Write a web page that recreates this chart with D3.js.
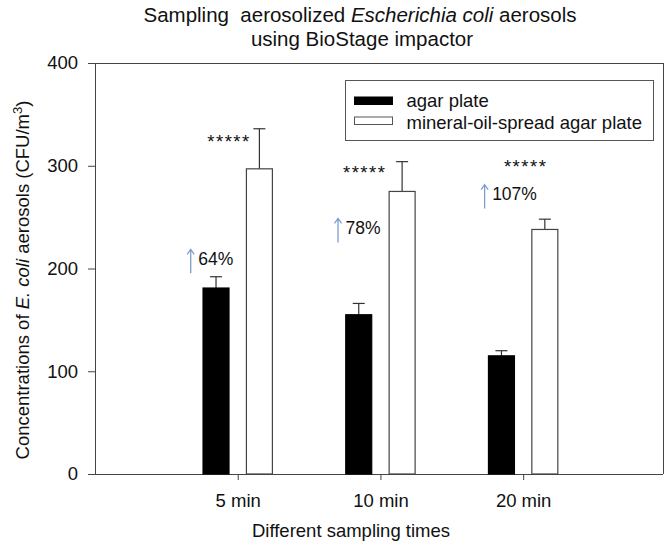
<!DOCTYPE html>
<html>
<head>
<meta charset="utf-8">
<script src="https://cdn.jsdelivr.net/npm/d3@7/dist/d3.min.js"></script>
<style>
  html, body { margin: 0; padding: 0; background: #fff; }
  svg { display: block; }
  text { font-family: "Liberation Sans", Arial, sans-serif; fill: #111; }
</style>
</head>
<body>
<svg id="chart" width="672" height="547"></svg>
<script>
// ---- data ----
const categories = ["5 min", "10 min", "20 min"];
const agarMeans = [181, 155, 115];
const agarErrors = [11, 11, 5];
const oilMeans = [297, 275, 238];
const oilErrors = [39, 29, 10];
const percentLabels = ["64%", "78%", "107%"];
const starLabels = ["*****", "*****", "*****"];
const yTicks = [0, 100, 200, 300, 400];
const seriesNames = ["agar plate", "mineral-oil-spread agar plate"];

(function () {
// ---- layout ----
const svg = d3.select("#chart");
const pL = 95, pR = 663, pT = 63, pB = 474;
const x = d3.scaleLinear().domain([0, 3.98]).range([pL, pR]);
const y = d3.scaleLinear().domain([0, 400]).range([pB, pT]);
const step = x(1) - x(0);
const barW = step * 0.182;
const barOff = step * 0.152;
const axisColor = "#444";

// frame (top & right)
svg.append("line").attr("x1", pL).attr("x2", pR).attr("y1", pT + 0.5).attr("y2", pT + 0.5)
  .attr("stroke", axisColor).attr("stroke-width", 1);
svg.append("line").attr("x1", pR + 0.5).attr("x2", pR + 0.5).attr("y1", pT).attr("y2", pB)
  .attr("stroke", axisColor).attr("stroke-width", 1);

// y axis
const yAxis = svg.append("g").attr("transform", `translate(${pL},0)`)
  .call(d3.axisLeft(y).tickValues(yTicks).tickSize(7).tickSizeOuter(0).tickPadding(10));
yAxis.selectAll("path, line").attr("stroke", axisColor);
yAxis.selectAll("text").attr("font-size", 18.5).attr("fill", "#111")
  .attr("font-family", "Liberation Sans, Arial, sans-serif");

// x axis
const xAxis = svg.append("g").attr("transform", `translate(0,${pB})`)
  .call(d3.axisBottom(x).tickValues([1, 2, 3]).tickFormat((d) => categories[d - 1])
    .tickSize(6).tickSizeOuter(0).tickPadding(14));
xAxis.select("path").attr("d", `M${pL},0.5H${pR}`).attr("stroke", axisColor);
xAxis.selectAll("line").attr("stroke", axisColor);
xAxis.selectAll("text").attr("font-size", 18.5).attr("fill", "#111")
  .attr("font-family", "Liberation Sans, Arial, sans-serif");

// bars
const groups = categories.map((c, i) => ({
  i: i + 1, agar: agarMeans[i], agarErr: agarErrors[i],
  oil: oilMeans[i], oilErr: oilErrors[i]
}));

const bars = [];
groups.forEach((g) => {
  bars.push({ cx: x(g.i) - barOff, v: g.agar, e: g.agarErr, fill: "#000", stroke: "#000" });
  bars.push({ cx: x(g.i) + barOff, v: g.oil, e: g.oilErr, fill: "#fff", stroke: "#444" });
});

const eb = svg.append("g");
bars.forEach((b) => {
  eb.append("line").attr("x1", b.cx).attr("x2", b.cx).attr("y1", y(b.v)).attr("y2", y(b.v + b.e))
    .attr("stroke", "#333").attr("stroke-width", 1.2);
  eb.append("line").attr("x1", b.cx - 6).attr("x2", b.cx + 6).attr("y1", y(b.v + b.e)).attr("y2", y(b.v + b.e))
    .attr("stroke", "#333").attr("stroke-width", 1.2);
});

svg.append("g").selectAll("rect").data(bars).join("rect")
  .attr("x", (d) => d.cx - barW / 2)
  .attr("y", (d) => y(d.v))
  .attr("width", barW)
  .attr("height", (d) => y(0) - y(d.v))
  .attr("fill", (d) => d.fill)
  .attr("stroke", (d) => d.stroke)
  .attr("stroke-width", 1.2);

// significance stars
const starPos = [{ dx: -9.7, v: 328 }, { dx: -16.7, v: 298 }, { dx: 1.5, v: 304 }];
svg.append("g").selectAll("text").data(starLabels).join("text")
  .attr("x", (d, i) => x(i + 1) + starPos[i].dx + 1)
  .attr("y", (d, i) => y(starPos[i].v) + 11)
  .attr("text-anchor", "middle")
  .attr("font-family", "DejaVu Sans, sans-serif")
  .attr("font-size", 18.5)
  .attr("letter-spacing", 1.5)
  .text((d) => d);

// increase arrows and percentages
const pctPos = [{ dx: -47, v: 207 }, { dx: -42.4, v: 237 }, { dx: -38.5, v: 270 }];
const ann = svg.append("g");
percentLabels.forEach((p, i) => {
  const ax = x(i + 1) + pctPos[i].dx;
  const ay = y(pctPos[i].v);
  ann.append("path")
    .attr("d", `M${ax},${ay + 12}V${ay - 12}M${ax - 3.5},${ay - 7}L${ax},${ay - 12}L${ax + 3.5},${ay - 7}`)
    .attr("fill", "none").attr("stroke", "#7f9fd0").attr("stroke-width", 1.3);
  ann.append("text")
    .attr("x", ax + 7.5).attr("y", ay + 3.5)
    .attr("font-family", "Open Sans, sans-serif")
    .attr("font-size", 17.5)
    .text(p);
});

// legend
const lg = svg.append("g");
lg.append("rect").attr("x", 345.5).attr("y", 80.5).attr("width", 308).attr("height", 60)
  .attr("fill", "#fff").attr("stroke", "#555").attr("stroke-width", 1);
const legendItems = [
  { name: seriesNames[0], fill: "#000", stroke: "#000" },
  { name: seriesNames[1], fill: "#fff", stroke: "#555" }
];
legendItems.forEach((it, i) => {
  lg.append("rect").attr("x", 354.5).attr("y", 97 + i * 20).attr("width", 38).attr("height", 7.5)
    .attr("fill", it.fill).attr("stroke", it.stroke).attr("stroke-width", 1);
  lg.append("text").attr("x", 406.5).attr("y", 107 + i * 21.5)
    .attr("font-size", 18.5).text(it.name);
});

// title
const title = svg.append("text").attr("x", 360).attr("y", 22).attr("text-anchor", "middle")
  .attr("font-size", 20.5);
title.append("tspan").text("Sampling\u00a0\u00a0aerosolized ");
title.append("tspan").attr("font-style", "italic").text("Escherichia coli");
title.append("tspan").text(" aerosols");
svg.append("text").attr("x", 362).attr("y", 46).attr("text-anchor", "middle")
  .attr("font-size", 20.5).text("using BioStage impactor");

// axis titles
svg.append("text").attr("x", 351).attr("y", 537).attr("text-anchor", "middle")
  .attr("font-size", 18.5).text("Different sampling times");

const yl = svg.append("text")
  .attr("transform", "translate(28.5,280) rotate(-90)")
  .attr("text-anchor", "middle").attr("font-size", 18.5);
yl.append("tspan").text("Concentrations of ");
yl.append("tspan").attr("font-style", "italic").text("E. coli");
yl.append("tspan").text(" aerosols (CFU/m");
yl.append("tspan").attr("font-size", 13).attr("dy", -7).text("3");
yl.append("tspan").attr("dy", 7).text(")");
})();
</script>
</body>
</html>
